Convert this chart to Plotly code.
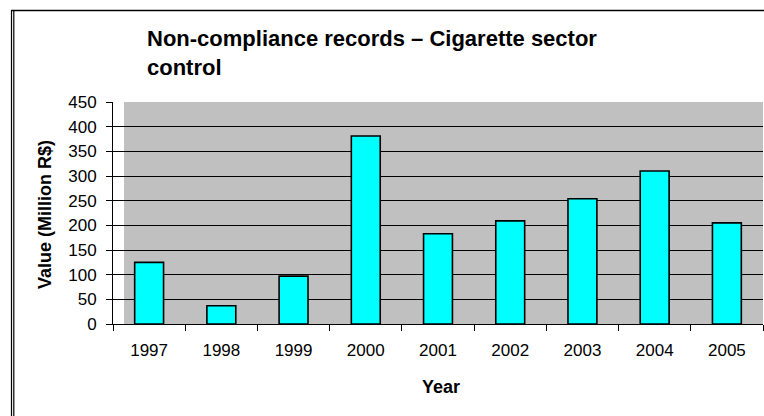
import plotly.graph_objects as go

# Annual totals of non-compliance records (million R$)
years = ["1997", "1998", "1999", "2000", "2001", "2002", "2003", "2004", "2005"]
values = [125, 37, 97, 381, 183, 209, 254, 310, 205]
y_ticks = [0, 50, 100, 150, 200, 250, 300, 350, 400, 450]

W, H = 764, 416
L, R, T, B = 113, 1, 102, 92
PW = W - L - R
PH = H - T - B

FONT = "Liberation Sans, Arial, sans-serif"


def px_x(px):
    return (px - L) / PW


def px_y(py):
    return (H - B - py) / PH


fig = go.Figure(
    go.Bar(
        x=years,
        y=values,
        width=0.4,
        marker=dict(color="#00FFFF", line=dict(color="#000000", width=1.6)),
    )
)

fig.update_layout(
    width=W,
    height=H,
    margin=dict(l=L, r=R, t=T, b=B),
    paper_bgcolor="white",
    plot_bgcolor="#C0C0C0",
    showlegend=False,
    font=dict(family=FONT, color="black"),
    title=dict(
        text="<b>Non-compliance records – Cigarette sector<br>control</b>",
        font=dict(size=22, family=FONT, color="black"),
        xref="container",
        yref="container",
        x=147 / W,
        xanchor="left",
        y=1 - 46 / H,
        yanchor="top",
    ),
)

fig.update_xaxes(
    type="category",
    range=[-0.5, len(years) - 0.5],
    showline=True,
    linecolor="black",
    linewidth=1,
    ticks="outside",
    tickson="boundaries",
    ticklen=6,
    tickcolor="black",
    showgrid=False,
    tickfont=dict(size=17, family=FONT),
    ticklabelstandoff=11,
)

fig.update_yaxes(
    range=[0, 450],
    tickvals=y_ticks,
    showline=True,
    linecolor="black",
    linewidth=1,
    ticks="outside",
    ticklen=6,
    tickcolor="black",
    showgrid=True,
    gridcolor="black",
    gridwidth=1,
    zeroline=False,
    tickfont=dict(size=17, family=FONT),
    ticklabelstandoff=6,
)

# Axis titles
fig.add_annotation(
    text="<b>Year</b>", xref="paper", yref="paper",
    x=px_x(441), y=px_y(387), xanchor="center", yanchor="middle",
    showarrow=False, font=dict(size=18, family=FONT, color="black"),
)
fig.add_annotation(
    text="<b>Value (Million R$)</b>", xref="paper", yref="paper",
    x=px_x(45), y=px_y(215), xanchor="center", yanchor="middle",
    textangle=-90, showarrow=False, font=dict(size=18, family=FONT, color="black"),
)

# White strip between the value axis and the grey plot area
fig.add_shape(
    type="rect", xref="paper", yref="paper",
    x0=0, x1=px_x(124), y0=0, y1=1,
    fillcolor="white", line=dict(width=0), layer="below",
)

# Chart frame: single top rule, double rule on the left
fig.add_shape(type="line", xref="paper", yref="paper",
              x0=px_x(11), x1=px_x(W), y0=px_y(10.5), y1=px_y(10.5),
              line=dict(color="black", width=1.5))
fig.add_shape(type="line", xref="paper", yref="paper",
              x0=px_x(11.5), x1=px_x(11.5), y0=px_y(10), y1=px_y(H),
              line=dict(color="black", width=1.2))
fig.add_shape(type="line", xref="paper", yref="paper",
              x0=px_x(13.8), x1=px_x(13.8), y0=px_y(11), y1=px_y(H),
              line=dict(color="black", width=1.2))

fig.write_html("out.html")
